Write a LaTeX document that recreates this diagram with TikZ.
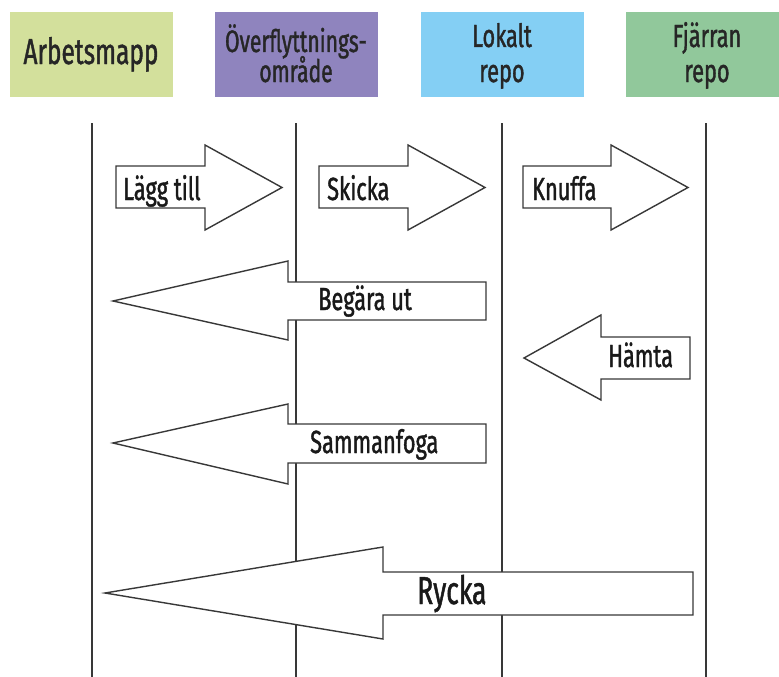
\documentclass[tikz,border=0pt]{standalone}
\usepackage{fontspec}
\setmainfont[FakeStretch=0.68, FakeBold=1.2]{Fira Sans}

\definecolor{workcol}{HTML}{D3E09C}
\definecolor{stagecol}{HTML}{8F84BE}
\definecolor{localcol}{HTML}{84CFF4}
\definecolor{remotecol}{HTML}{91C89B}
\definecolor{inkgray}{HTML}{383838}

\tikzset{
  lane/.style={draw=inkgray, line width=1.6pt},
  headbox/.style={rectangle, minimum width=163pt, minimum height=85pt, inner sep=0pt, draw=none},
  headtext/.style={anchor=base, inner sep=0pt, font=\fontsize{32}{32}\selectfont, text=black!85},
  blockarrow/.style={draw=inkgray, fill=white, line width=1.4pt, line join=miter},
  arrowtext/.style={anchor=base west, inner sep=0pt, font=\fontsize{32}{32}\selectfont, text=black!90},
}

\begin{document}
\begin{tikzpicture}[x=1pt, y=-1pt]
\useasboundingbox (0,0) rectangle (779,677);
\clip (0,0) rectangle (779,677);

% column headers
\node[headbox, fill=workcol]   (hwork)   at (91,54.5)  {};
\node[headbox, fill=stagecol]  (hstage)  at (296,54.5) {};
\node[headbox, fill=localcol]  (hlocal)  at (502,54.5) {};
\node[headbox, fill=remotecol] (hremote) at (707,54.5) {};

\node[headtext, font=\fontsize{36}{36}\selectfont] (twork) at (91,64) {Arbetsmapp};
\node[headtext, font=\fontsize{31}{31}\selectfont] (tstage1) at (296,52) {Överflyttnings-};
\node[headtext, font=\fontsize{31}{31}\selectfont] (tstage2) at (296,82) {område};
\node[headtext] (tlocal1)  at (502,47) {Lokalt};
\node[headtext] (tlocal2)  at (502,82) {repo};
\node[headtext] (tremote1) at (707,47) {Fjärran};
\node[headtext] (tremote2) at (707,82) {repo};

% lanes
\foreach \n/\x in {a/92, b/296, c/502, d/706} {
  \coordinate (\n top) at (\x,123);
  \coordinate (\n bot) at (\x,690);
  \draw[lane] (\n top) -- (\n bot);
}

% arrows to the right
\draw[blockarrow] (116,166) -- (205,166) -- (205,145) -- (282,187.5) -- (205,230) -- (205,208) -- (116,208) -- cycle;
\draw[blockarrow] (319,166) -- (408,166) -- (408,145) -- (485,187.5) -- (408,230) -- (408,208) -- (319,208) -- cycle;
\draw[blockarrow] (523,166) -- (611,166) -- (611,145) -- (688,187.5) -- (611,230) -- (611,208) -- (523,208) -- cycle;

% arrows to the left
\draw[blockarrow] (113,301) -- (288,261) -- (288,282) -- (486,282) -- (486,320) -- (288,320) -- (288,340) -- cycle;
\draw[blockarrow] (524,358) -- (601,315) -- (601,337) -- (690,337) -- (690,379) -- (601,379) -- (601,400) -- cycle;
\draw[blockarrow] (113,443) -- (288,404) -- (288,424) -- (486,424) -- (486,463) -- (288,463) -- (288,484) -- cycle;
\draw[blockarrow] (105,593) -- (383,547) -- (383,572) -- (693,572) -- (693,615) -- (383,615) -- (383,639) -- cycle;

% labels
\node[arrowtext] (add)   at (123,200) {Lägg till};
\node[arrowtext] (commit) at (327,200) {Skicka};
\node[arrowtext] (push)  at (532,200) {Knuffa};
\node[arrowtext] (checkout) at (318,310) {Begära ut};
\node[arrowtext] (fetch) at (608,367) {Hämta};
\node[arrowtext] (merge) at (310,453) {Sammanfoga};
\node[arrowtext, font=\fontsize{39}{39}\selectfont] (pull) at (417,604) {Rycka};
\end{tikzpicture}
\end{document}
